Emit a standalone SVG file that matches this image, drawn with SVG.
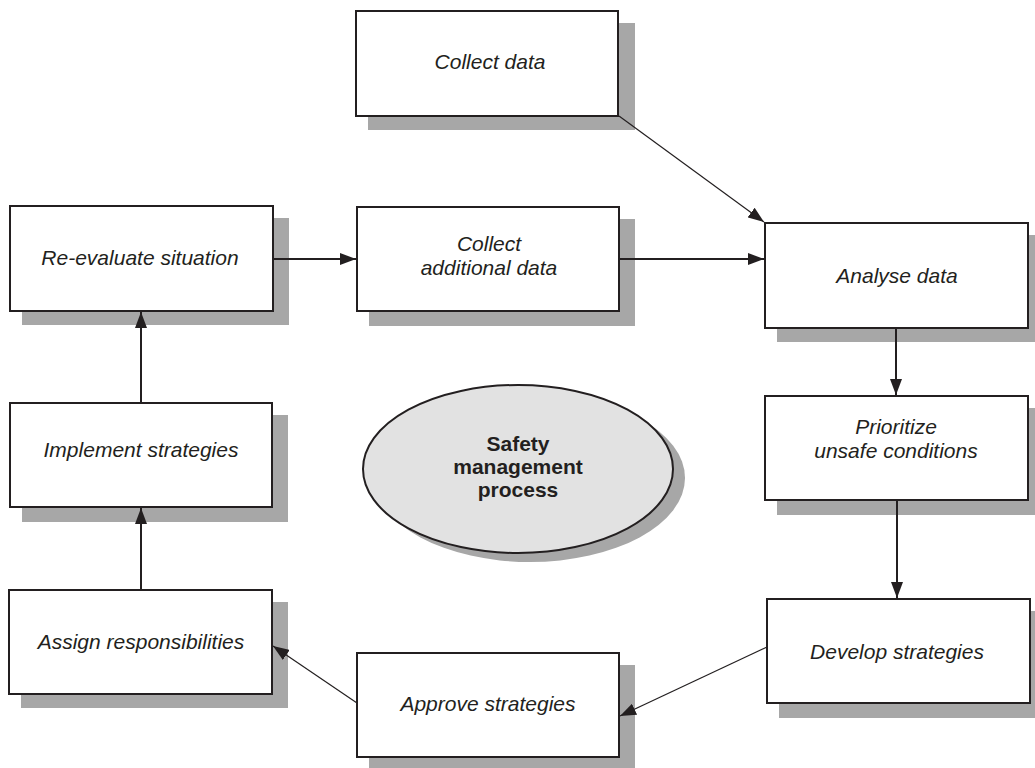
<svg xmlns="http://www.w3.org/2000/svg" width="1035" height="768" viewBox="0 0 1035 768">
<style>
.shadow{fill:#a7a7a7;stroke:none}
.box{fill:#ffffff;stroke:#231f20;stroke-width:2}
.lbl{font-family:"Liberation Sans",Arial,sans-serif;font-style:italic;font-size:21px;fill:#231f20;text-anchor:middle}
.bold{font-family:"Liberation Sans",Arial,sans-serif;font-weight:bold;font-size:21px;fill:#231f20;text-anchor:middle}
.thick{stroke:#231f20;stroke-width:2;fill:none;marker-end:url(#ah)}
.thin{stroke:#231f20;stroke-width:1.2;fill:none;marker-end:url(#ah)}
</style>
<defs>
<marker id="ah" markerUnits="userSpaceOnUse" viewBox="0 0 16 12" markerWidth="16" markerHeight="12" refX="16" refY="6" orient="auto">
<path d="M0,0 L16,6 L0,12 z" fill="#231f20"/>
</marker>
</defs>
<rect width="1035" height="768" fill="#ffffff"/>

<g id="node-collect-data">
<rect class="shadow" x="368" y="23" width="267" height="107"/>
<rect class="box" x="356" y="11" width="262" height="105"/>
<text class="lbl" x="490" y="69">Collect data</text>
</g>

<g id="node-reevaluate">
<rect class="shadow" x="22" y="218" width="267" height="107"/>
<rect class="box" x="10" y="206" width="263" height="105"/>
<text class="lbl" x="140" y="265">Re-evaluate situation</text>
</g>

<g id="node-collect-additional">
<rect class="shadow" x="369" y="219" width="266" height="107"/>
<rect class="box" x="357" y="207" width="262" height="104"/>
<text class="lbl" x="489" y="251">Collect</text>
<text class="lbl" x="489" y="275">additional data</text>
</g>

<g id="node-analyse">
<rect class="shadow" x="777" y="235" width="267" height="107"/>
<rect class="box" x="765" y="223" width="263" height="105"/>
<text class="lbl" x="897" y="283">Analyse data</text>
</g>

<g id="node-prioritize">
<rect class="shadow" x="777" y="408" width="267" height="107"/>
<rect class="box" x="765" y="396" width="263" height="104"/>
<text class="lbl" x="896" y="434">Prioritize</text>
<text class="lbl" x="896" y="458">unsafe conditions</text>
</g>

<g id="node-develop">
<rect class="shadow" x="779" y="611" width="267" height="107"/>
<rect class="box" x="767" y="599" width="263" height="104"/>
<text class="lbl" x="897" y="659">Develop strategies</text>
</g>

<g id="node-approve">
<rect class="shadow" x="369" y="665" width="266" height="107"/>
<rect class="box" x="357" y="653" width="262" height="104"/>
<text class="lbl" x="488" y="711">Approve strategies</text>
</g>

<g id="node-assign">
<rect class="shadow" x="21" y="602" width="267" height="106"/>
<rect class="box" x="9" y="590" width="263" height="104"/>
<text class="lbl" x="141" y="649">Assign responsibilities</text>
</g>

<g id="node-implement">
<rect class="shadow" x="22" y="415" width="266" height="107"/>
<rect class="box" x="10" y="403" width="262" height="104"/>
<text class="lbl" x="141" y="457">Implement strategies</text>
</g>

<g id="node-center">
<ellipse cx="530" cy="478" rx="155" ry="84" fill="#a7a7a7"/>
<ellipse cx="518" cy="469" rx="155" ry="84" fill="#e2e2e2" stroke="#231f20" stroke-width="2"/>
<text class="bold" x="518" y="451">Safety</text>
<text class="bold" x="518" y="474">management</text>
<text class="bold" x="518" y="497">process</text>
</g>

<g id="connectors">
<line class="thin" x1="619" y1="116" x2="764" y2="222"/>
<line class="thick" x1="273" y1="259" x2="356" y2="259"/>
<line class="thick" x1="619" y1="259" x2="764" y2="259"/>
<line class="thick" x1="896" y1="328" x2="896" y2="395"/>
<line class="thick" x1="897" y1="500" x2="897" y2="598"/>
<line class="thin" x1="767" y1="647" x2="620" y2="716"/>
<line class="thin" x1="357" y1="703" x2="273" y2="646"/>
<line class="thick" x1="141" y1="590" x2="141" y2="508"/>
<line class="thick" x1="141" y1="403" x2="141" y2="312"/>
</g>
</svg>
